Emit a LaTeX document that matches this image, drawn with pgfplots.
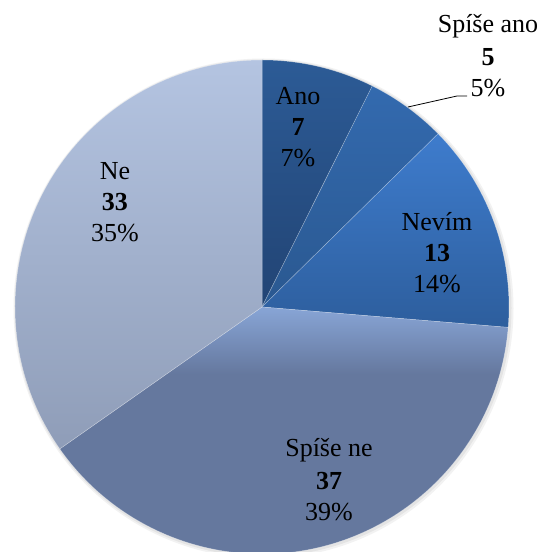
\documentclass[border=0pt]{standalone}
\usepackage{pgfplots}
\pgfplotsset{compat=1.18}
\usepackage{pgfplotstable}
\usepackage{fontspec}
\setmainfont{Liberation Serif}

% slice colours, top and bottom of the vertical gradient
\definecolor{anoT}{HTML}{2C5B96}
\definecolor{anoB}{HTML}{224474}
\definecolor{sanoT}{HTML}{336AAF}
\definecolor{sanoB}{HTML}{2A5890}
\definecolor{nevT}{HTML}{3E7CCD}
\definecolor{nevB}{HTML}{2D5E9D}
\definecolor{sneT}{HTML}{88A5D6}
\definecolor{sneB}{HTML}{65789E}
\definecolor{neT}{HTML}{B4C4E1}
\definecolor{neB}{HTML}{8F9DB8}

\pgfdeclareverticalshading{sl0}{100bp}{color(0bp)=(anoB); color(25bp)=(anoB); color(75bp)=(anoT); color(100bp)=(anoT)}
\pgfdeclareverticalshading{sl1}{100bp}{color(0bp)=(sanoB); color(25bp)=(sanoB); color(75bp)=(sanoT); color(100bp)=(sanoT)}
\pgfdeclareverticalshading{sl2}{100bp}{color(0bp)=(nevB); color(25bp)=(nevB); color(75bp)=(nevT); color(100bp)=(nevT)}
\pgfdeclareverticalshading{sl3}{100bp}{color(0bp)=(sneB); color(25bp)=(sneB); color(62bp)=(sneB); color(75bp)=(sneT); color(100bp)=(sneT)}
\pgfdeclareverticalshading{sl4}{100bp}{color(0bp)=(neB); color(25bp)=(neB); color(75bp)=(neT); color(100bp)=(neT)}

% value, percentage, label position (centre of the label block)
\pgfplotstableread[col sep=comma]{
name,value,pct,lx,ly
Ano,7,7,36,180
Spíše ano,5,5,226,250
Nevím,13,14,175,54
Spíše ne,37,39,67,-174
Ne,33,35,-147,105
}\piedata

% start and end angle of every slice, clockwise from 12 o'clock
\xdef\total{0}
\pgfplotstableforeachcolumnelement{value}\of\piedata\as\v{%
  \pgfmathsetmacro\t{\total+\v}\xdef\total{\t}}
\xdef\cum{0}
\pgfplotstableforeachcolumnelement{value}\of\piedata\as\v{%
  \pgfmathsetmacro\s{90-(\cum/\total)*360}%
  \pgfmathsetmacro\c{\cum+\v}\xdef\cum{\c}%
  \pgfmathsetmacro\e{90-(\cum/\total)*360}%
  \expandafter\xdef\csname sa\pgfplotstablerow\endcsname{\s}%
  \expandafter\xdef\csname ea\pgfplotstablerow\endcsname{\e}}

\def\R{247}

\pgfplotsset{
  pielabel/.style={only marks, mark=none, nodes near coords,
    point meta=explicit symbolic,
    every node near coord/.style={anchor=center, inner sep=0pt,
      font=\fontsize{26}{31}\selectfont, text=black, yshift=#1}},
}

\begin{document}
\begin{tikzpicture}
\begin{axis}[
  x=1pt, y=1pt,
  xmin=-262, xmax=281, ymin=-245, ymax=307,
  hide axis, clip=false,
]
\coordinate (bl) at (-262,-245);
\coordinate (tr) at (281,307);
% soft shadow
\fill[black, opacity=0.05] (1.5,-1.5) circle[radius=250];
\fill[black, opacity=0.06] (1,-1) circle[radius=248.5];

\pgfplotsinvokeforeach{0,...,4}{
  \shade[shading=sl#1, draw=white, draw opacity=0.35, line width=0.5pt]
    (0,0) -- ({\R*cos(\csname sa#1\endcsname)},{\R*sin(\csname sa#1\endcsname)})
    arc[start angle=\csname sa#1\endcsname, end angle=\csname ea#1\endcsname, radius=\R] -- cycle;
}

% leader line of the small slice
\addplot[black, line width=0.8pt] coordinates {(146,200) (195,211) (205,211)};

% three-line labels: name / value (bold) / percentage
\addplot[pielabel=31pt] table[x=lx, y=ly, meta=name] \piedata;
\addplot[pielabel=0pt, nodes near coords={\textbf{\pgfplotspointmeta}}] table[x=lx, y=ly, meta=value] \piedata;
\addplot[pielabel=-31pt, nodes near coords={\pgfplotspointmeta\%}] table[x=lx, y=ly, meta=pct] \piedata;
\end{axis}
\pgfresetboundingbox
\path (bl) rectangle (tr);
\end{tikzpicture}
\end{document}
